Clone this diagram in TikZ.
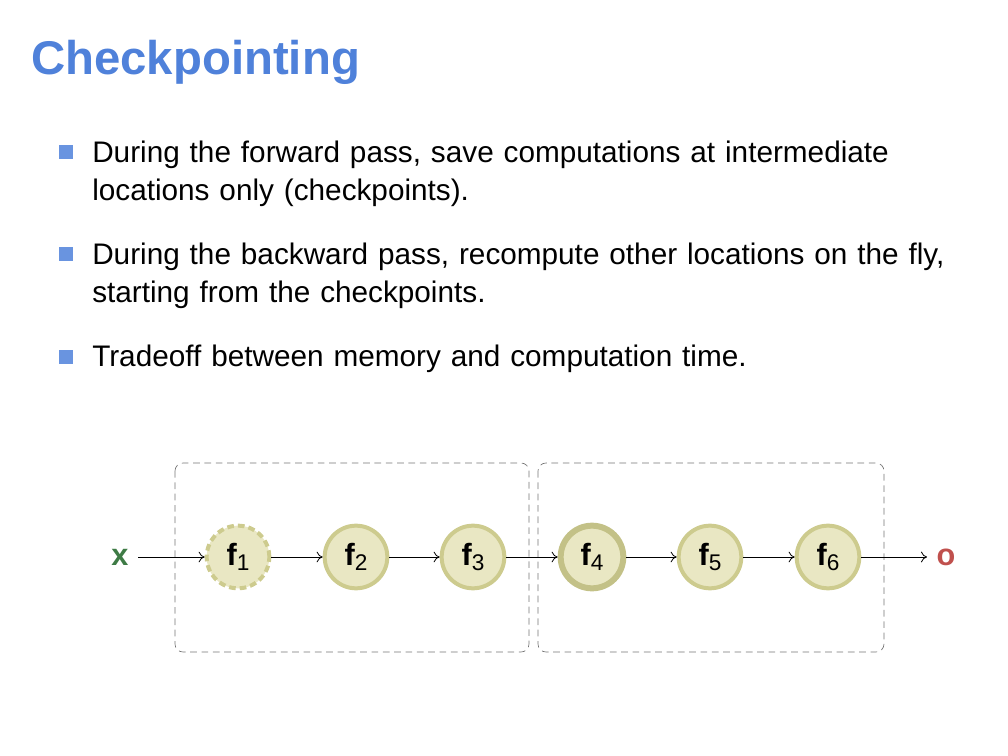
\documentclass[tikz,border=0pt]{standalone}
\usepackage{fontspec}
\setmainfont{Liberation Sans}
\setsansfont{Liberation Sans}
\usetikzlibrary{arrows.meta}
\definecolor{titleblue}{HTML}{4F81DA}
\definecolor{nodefill}{HTML}{E9E7C3}
\definecolor{nodeline}{HTML}{CDCB8E}
\definecolor{xgreen}{HTML}{3E7B45}
\definecolor{ored}{HTML}{C0504D}
\tikzset{
  fnode/.style={circle, fill=nodefill, draw=nodeline, line width=3pt, minimum size=47pt, inner sep=0pt, font=\fontsize{23}{23}\selectfont},
  grp/.style={draw=black!55, dash pattern=on 5pt off 3.5pt, rounded corners=6pt, line width=0.5pt},
  conn/.style={-{To[length=4.5pt,width=8pt]}, line width=0.6pt},
  item/.style={anchor=base west, align=left, text width=680pt, font=\fontsize{22.3}{27.8}\selectfont, inner sep=0pt},
  bullet/.style={fill=titleblue!85, minimum size=10pt, inner sep=0pt},
  endlabel/.style={font=\fontsize{23}{23}\selectfont\bfseries, inner sep=7pt},
}
\newcommand{\fl}[1]{\textbf{f}\raisebox{-0.3ex}{\fontsize{17}{17}\selectfont #1}}
\begin{document}
\begin{tikzpicture}[x=0.75pt,y=-0.75pt]
\useasboundingbox (0,0) rectangle (1008,756);
\node[anchor=base west, inner sep=0pt, text=titleblue, font=\fontsize{35.5}{35.5}\selectfont\bfseries] (title) at (31,75) {Checkpointing};
\node[bullet] (b1) at (66,152) {};
\node[bullet] (b2) at (66,254) {};
\node[bullet] (b3) at (66,357) {};
\node[item] (t1) at (92,163) {During the forward pass, save computations at intermediate\\locations only (checkpoints).};
\node[item] (t2) at (92,265) {During the backward pass, recompute other locations on the fly,\\starting from the checkpoints.};
\node[item] (t3) at (92,367) {Tradeoff between memory and computation time.};
\draw[grp] (175,463) rectangle (529,652);
\draw[grp] (538,463) rectangle (884,652);
\node[endlabel, text=xgreen] (x) at (120,557) {x};
\node[fnode, dash pattern=on 5pt off 3pt] (f1) at (238,557) {\fl{1}};
\node[fnode] (f2) at (356,557) {\fl{2}};
\node[fnode] (f3) at (473,557) {\fl{3}};
\node[fnode, line width=4.5pt, draw=nodeline!95!black] (f4) at (592,557) {\fl{4}};
\node[fnode] (f5) at (710,557) {\fl{5}};
\node[fnode] (f6) at (828,557) {\fl{6}};
\node[endlabel, text=ored] (o) at (946,557) {o};
\draw[conn] (x) -- (f1);
\draw[conn] (f1) -- (f2);
\draw[conn] (f2) -- (f3);
\draw[conn] (f3) -- (f4);
\draw[conn] (f4) -- (f5);
\draw[conn] (f5) -- (f6);
\draw[conn] (f6) -- (o);
\end{tikzpicture}
\end{document}
